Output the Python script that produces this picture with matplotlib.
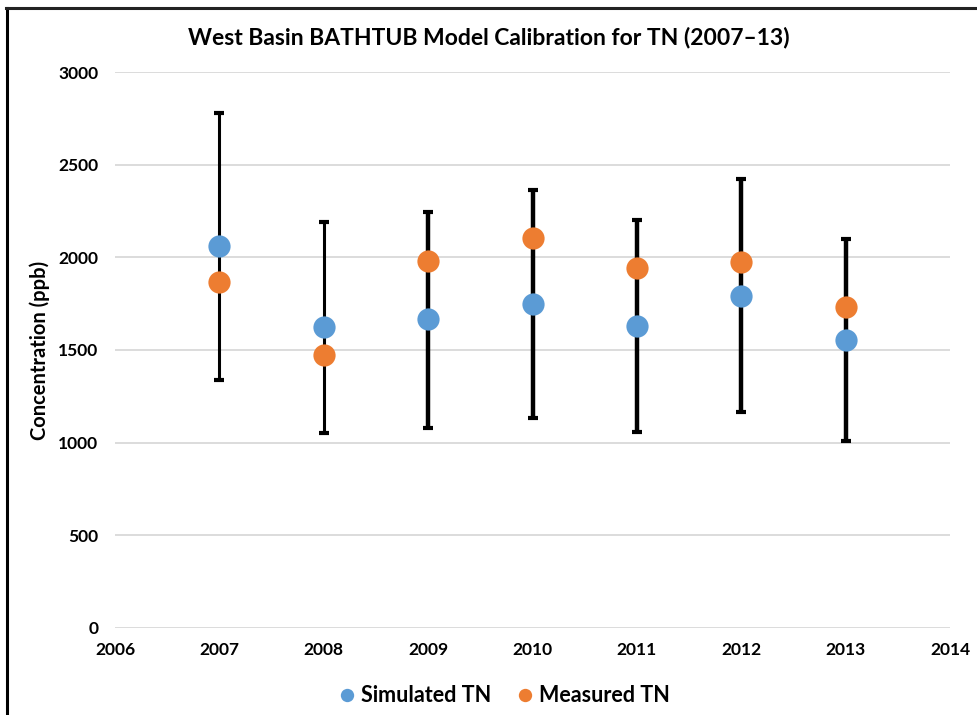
import numpy as np
import matplotlib.pyplot as plt
from matplotlib.lines import Line2D

plt.rcParams['font.family'] = ['Lato', 'DejaVu Sans']

# DATA ############################################################

years = [2007, 2008, 2009, 2010, 2011, 2012, 2013]
simulated = [2060, 1622, 1665, 1748, 1628, 1792, 1552]
measured = [1868, 1474, 1980, 2105, 1944, 1973, 1733]
range_low = [1338, 1054, 1080, 1135, 1059, 1164, 1008]
range_high = [2779, 2192, 2247, 2365, 2200, 2421, 2100]

x_ticks = [2006, 2007, 2008, 2009, 2010, 2011, 2012, 2013, 2014]
y_ticks = [0, 500, 1000, 1500, 2000, 2500, 3000]

BLUE = "#5B9BD5"
ORANGE = "#ED7D31"
GRID = "#D9D9D9"

# FIGURE ##########################################################

fig = plt.figure(figsize=(9.77, 7.15), dpi=100)
ax = fig.add_axes([0.1177, 0.1217, 0.8547, 0.7776])

meas = np.array(measured)
yerr = [meas - np.array(range_low), np.array(range_high) - meas]

eb = ax.errorbar(
    years,
    measured,
    yerr=yerr,
    fmt="none",
    ecolor="black",
    elinewidth=3.2,
    capsize=3.5,
    capthick=3,
    zorder=2
)
# first two bars are drawn a bit thinner in the original
eb[2][0].set_linewidths([2.2, 2.2, 3.2, 3.2, 3.2, 3.2, 3.2])

ax.plot(years, simulated, "o", color=BLUE, markersize=16,
        markeredgewidth=0, label="Simulated TN", zorder=3)
ax.plot(years, measured, "o", color=ORANGE, markersize=16,
        markeredgewidth=0, label="Measured TN", zorder=3)

ax.set_xlim(2006, 2014)
ax.set_ylim(0, 3000)
ax.set_xticks(x_ticks)
ax.set_yticks(y_ticks)
ax.set_xticklabels([str(t) for t in x_ticks], fontweight="bold", fontsize=12.5)
ax.set_yticklabels([str(t) for t in y_ticks], fontweight="bold", fontsize=12.5)
ax.tick_params(length=0, pad=12)
ax.tick_params(axis="x", pad=10)

ax.grid(axis="y", color=GRID, linewidth=1.3)
ax.set_axisbelow(True)
for side in ["top", "right", "left", "bottom"]:
    ax.spines[side].set_visible(False)

ax.set_ylabel("Concentration (ppb)", fontweight="bold", fontsize=14.5, labelpad=6)

fig.text(0.5, 0.948, "West Basin BATHTUB Model Calibration for TN (2007\u201313)",
         ha="center", va="center", fontweight="bold", fontsize=16.5)

ax.legend(
    loc="upper center",
    bbox_to_anchor=(0.466, -0.068),
    ncol=2,
    frameon=False,
    prop={"weight": "bold", "size": 15.5},
    handlelength=0.8,
    handletextpad=0.25,
    columnspacing=1.2,
    markerscale=0.6
)

# outer frame (left and top edges only)
fig.add_artist(Line2D([0.0072, 0.0072], [0, 0.9888], color="black", linewidth=2.2))
fig.add_artist(Line2D([0.0062, 1.0], [0.9888, 0.9888], color="#222222", linewidth=2.2))

fig.savefig("out.png", dpi=100)
